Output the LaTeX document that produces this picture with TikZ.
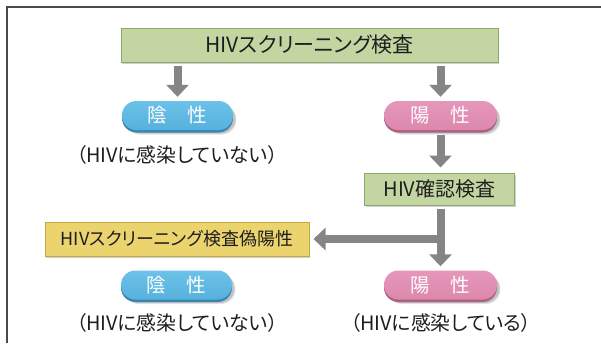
\documentclass[tikz,border=0pt]{standalone}
\usepackage{fontspec}
\newfontfamily\jp[RawFeature=+palt]{Noto Sans CJK JP}
\usetikzlibrary{arrows.meta,shadows,calc}
\definecolor{framegray}{HTML}{4A4A4A}
\definecolor{arrowgray}{HTML}{858585}
\definecolor{gfill}{HTML}{C3D6A2}
\definecolor{gedge}{HTML}{8FA66C}
\definecolor{yfill}{HTML}{EBD36E}
\definecolor{yedge}{HTML}{C2A845}
\definecolor{btop}{HTML}{6CC2E8}
\definecolor{bbot}{HTML}{56B1DC}
\definecolor{bdark}{HTML}{3A86B2}
\definecolor{ptop}{HTML}{E597BA}
\definecolor{pbot}{HTML}{DC88AD}
\definecolor{pdark}{HTML}{AE5F82}
\definecolor{txt}{HTML}{1E1E1E}
\tikzset{
  sqbox/.style={rectangle, inner sep=0pt, text=txt, line width=1pt,
    general shadow={shadow xshift=1pt, shadow yshift=-1.5pt, fill=black, opacity=0.18}},
  greenbox/.style={sqbox, fill=gfill, draw=gedge},
  yellowbox/.style={sqbox, fill=yfill, draw=yedge},
  pill/.style={rectangle, rounded corners=14.4pt, minimum height=29pt, inner sep=0pt,
    text=white, font=\jp\fontsize{19.5}{19.5}\selectfont,
    general shadow={shadow xshift=3.5pt, shadow yshift=-4.5pt, fill=black, opacity=0.10},
    general shadow={shadow xshift=2.5pt, shadow yshift=-3.5pt, fill=black, opacity=0.15}},
  bluepill/.style={pill, top color=btop, bottom color=bbot,
    general shadow={shadow yshift=-2.5pt, fill=bdark}},
  pinkpill/.style={pill, top color=ptop, bottom color=pbot,
    general shadow={shadow yshift=-2.5pt, fill=pdark}},
  note/.style={text=txt, inner sep=0pt, font=\jp\fontsize{19.8}{19.8}\selectfont},
  arr/.style={draw=arrowgray, line width=8pt, -{Triangle[width=22pt,length=12pt]}}
}
\begin{document}
\begin{tikzpicture}[x=1pt,y=-1pt]
\useasboundingbox (0,0) rectangle (601,343);
\fill[white] (0,0) rectangle (601,343);
\draw[framegray, line width=2pt] (7,343) -- (7,7) -- (601,7);

\node[greenbox, minimum width=377pt, minimum height=34pt, font=\jp\fontsize{21}{21}\selectfont] (scr) at (309.5,45) {HIVスクリーニング検査};
\node[bluepill, minimum width=111pt] (neg1) at (177.5,115.5) {陰\hspace{21pt}性};
\node[pinkpill, minimum width=113pt] (pos1) at (440.5,115.5) {陽\hspace{21pt}性};
\node[note] (txt1) at (177,155) {（HIVに感染していない）};
\node[greenbox, minimum width=150pt, minimum height=32pt, font=\jp\fontsize{20}{20}\selectfont] (conf) at (439.5,189) {HIV確認検査};
\node[yellowbox, minimum width=264pt, minimum height=34pt, font=\jp\fontsize{18}{18}\selectfont] (fp) at (177,239) {HIVスクリーニング検査偽陽性};
\node[bluepill, minimum width=111pt] (neg2) at (176.5,285) {陰\hspace{21pt}性};
\node[pinkpill, minimum width=113pt] (pos2) at (440.5,285) {陽\hspace{21pt}性};
\node[note] (txt2) at (177,323) {（HIVに感染していない）};
\node[note] (txt3) at (441,323) {（HIVに感染している）};

\draw[arr] ($(scr.south -| neg1.north)+(0,3)$) -- ($(neg1.north)+(0,-4)$);
\draw[arr] ($(scr.south -| pos1.north)+(0,3)$) -- ($(pos1.north)+(0,-4)$);
\draw[arr] ($(pos1.south)+(0,5)$) -- ($(conf.north -| pos1.south)+(0,-5)$);
\draw[arr] ($(conf.south -| pos2.north)+(0,3)$) -- ($(pos2.north)+(0,-4)$);
\coordinate (j) at (pos2.north |- fp.east);
\draw[arr] ($(j)+(4,0)$) -- ($(fp.east)+(4,0)$);
\end{tikzpicture}
\end{document}
